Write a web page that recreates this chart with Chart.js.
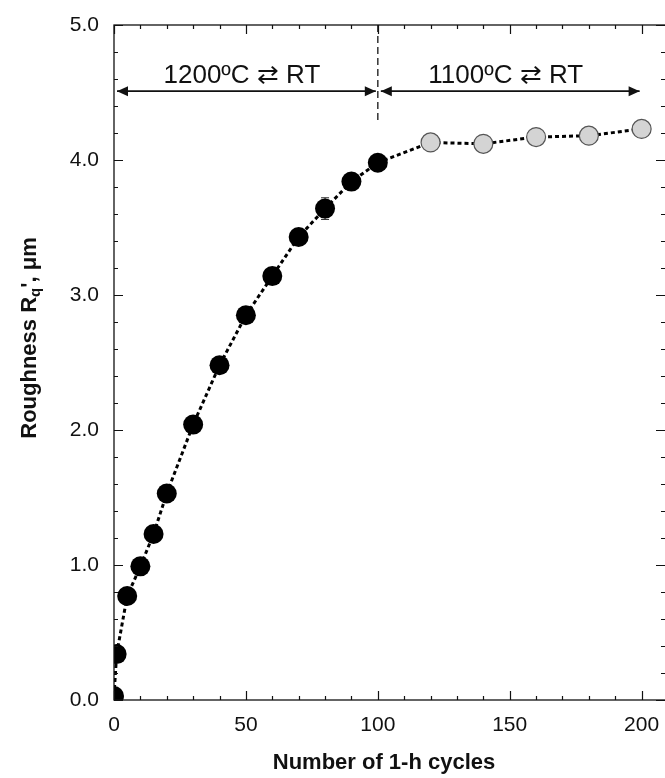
<!DOCTYPE html>
<html>
<head>
<meta charset="utf-8">
<script src="https://cdn.jsdelivr.net/npm/chart.js@4.4.1/dist/chart.umd.min.js"></script>
<style>
  html, body { margin: 0; padding: 0; background: #fff; overflow: hidden; }
  #roughChart { display: block; }
</style>
</head>
<body>
<canvas id="roughChart" width="668" height="778"></canvas>
<script>
// Roughness vs thermal cycles
const cycles1200 = [0, 1, 5, 10, 15, 20, 30, 40, 50, 60, 70, 80, 90, 100];
const rough1200 = [0.03, 0.34, 0.77, 0.99, 1.23, 1.53, 2.04, 2.48, 2.85, 3.14, 3.43, 3.64, 3.84, 3.98];
const err1200 = [0, 0, 0, 0, 0, 0, 0, 0, 0, 0, 0.03, 0.08, 0.03, 0.03];
const cycles1100 = [120, 140, 160, 180, 200];
const rough1100 = [4.13, 4.12, 4.17, 4.18, 4.23];
const xTicks = [0, 50, 100, 150, 200];
const yTicks = [0, 1, 2, 3, 4, 5];
const segLabels = ["1200\u00BAC \u21C4 RT", "1100\u00BAC \u21C4 RT"];
const segRanges = [[0, 100], [100, 200]];

const FONT = "'Liberation Sans', Arial, sans-serif";

const allPts = cycles1200.map((x, i) => ({ x: x, y: rough1200[i] }))
  .concat(cycles1100.map((x, i) => ({ x: x, y: rough1100[i] })));

const framePlugin = {
  id: "frame",
  beforeDatasetsDraw(chart) {
    const { ctx, scales: { x, y } } = chart;
    // error bars (behind markers)
    ctx.save();
    ctx.strokeStyle = "#222";
    ctx.lineWidth = 1;
    cycles1200.forEach((c, i) => {
      if (!err1200[i]) return;
      const px = x.getPixelForValue(c);
      const top = y.getPixelForValue(rough1200[i] + err1200[i]);
      const bot = y.getPixelForValue(rough1200[i] - err1200[i]);
      ctx.beginPath();
      ctx.moveTo(px, top); ctx.lineTo(px, bot);
      ctx.moveTo(px - 4, top); ctx.lineTo(px + 4, top);
      ctx.moveTo(px - 4, bot); ctx.lineTo(px + 4, bot);
      ctx.stroke();
    });
    // dashed divider at 100 cycles
    ctx.setLineDash([7, 4]);
    ctx.lineWidth = 1.5;
    ctx.strokeStyle = "#333";
    ctx.beginPath();
    ctx.moveTo(x.getPixelForValue(100), y.getPixelForValue(5));
    ctx.lineTo(x.getPixelForValue(100), y.getPixelForValue(4.27));
    ctx.stroke();
    ctx.restore();
  },
  afterDraw(chart) {
    const { ctx, chartArea: a, scales: { x, y } } = chart;
    ctx.save();
    ctx.strokeStyle = "#111";
    ctx.lineWidth = 1.3;
    ctx.strokeRect(a.left, a.top, a.right - a.left, a.bottom - a.top);

    // inward ticks on all four sides
    ctx.lineWidth = 1.2;
    ctx.beginPath();
    for (let v = 0; v <= 210; v += 10) {
      const px = Math.round(x.getPixelForValue(v)) + 0.5;
      const len = v % 50 === 0 ? 9 : 4;
      ctx.moveTo(px, a.bottom); ctx.lineTo(px, a.bottom - len);
      ctx.moveTo(px, a.top); ctx.lineTo(px, a.top + len);
    }
    for (let k = 0; k <= 25; k++) {
      const py = Math.round(y.getPixelForValue(k * 0.2)) + 0.5;
      const len = k % 5 === 0 ? 9 : 4;
      ctx.moveTo(a.left, py); ctx.lineTo(a.left + len, py);
      ctx.moveTo(a.right - 3, py); ctx.lineTo(a.right - 3 - len, py);
    }
    ctx.stroke();

    // double headed arrows with labels
    const ay = y.getPixelForValue(4.51);
    ctx.fillStyle = "#111";
    ctx.lineWidth = 1.6;
    segRanges.forEach((r, i) => {
      const x0 = x.getPixelForValue(r[0]) + 3;
      const x1 = x.getPixelForValue(r[1]) - 2;
      ctx.beginPath();
      ctx.moveTo(x0, ay); ctx.lineTo(x1, ay);
      ctx.stroke();
      [[x0, 1], [x1, -1]].forEach(([tip, d]) => {
        ctx.beginPath();
        ctx.moveTo(tip, ay);
        ctx.lineTo(tip + d * 11, ay - 5);
        ctx.lineTo(tip + d * 11, ay + 5);
        ctx.closePath();
        ctx.fill();
      });
      ctx.font = "26px " + FONT;
      ctx.textAlign = "center";
      ctx.textBaseline = "alphabetic";
      const cx = x.getPixelForValue((r[0] + r[1]) / 2) - 4;
      ctx.fillText(segLabels[i], cx, ay - 8);
    });

    // axis titles
    ctx.fillStyle = "#111";
    ctx.font = "bold 22px " + FONT;
    ctx.textAlign = "center";
    ctx.textBaseline = "middle";
    ctx.fillText("Number of 1-h cycles", 384, 763);

    ctx.translate(30, 338);
    ctx.rotate(-Math.PI / 2);
    const parts = [
      { t: "Roughness R", f: "bold 22px " + FONT, dy: 0 },
      { t: "q", f: "bold 15px " + FONT, dy: 6 },
      { t: "', \u03BCm", f: "bold 22px " + FONT, dy: 0 }
    ];
    let total = 0;
    parts.forEach(p => { ctx.font = p.f; p.w = ctx.measureText(p.t).width; total += p.w; });
    let cur = -total / 2;
    ctx.textAlign = "left";
    parts.forEach(p => {
      ctx.font = p.f;
      ctx.fillText(p.t, cur, p.dy);
      cur += p.w;
    });
    ctx.restore();
  }
};

new Chart(document.getElementById("roughChart"), {
  type: "scatter",
  data: {
    datasets: [
      {
        label: "1100",
        data: cycles1100.map((x, i) => ({ x: x, y: rough1100[i] })),
        pointRadius: 9.5,
        pointBackgroundColor: "#d4d4d4",
        pointBorderColor: "#555",
        pointBorderWidth: 1.2,
        order: 1
      },
      {
        label: "1200",
        data: cycles1200.map((x, i) => ({ x: x, y: rough1200[i] })),
        pointRadius: 10,
        pointBackgroundColor: "#000",
        pointBorderColor: "#000",
        pointBorderWidth: 0,
        order: 1
      },
      {
        label: "trend",
        data: allPts,
        showLine: true,
        borderColor: "#000",
        borderWidth: 3,
        borderDash: [4, 3],
        pointRadius: 0,
        order: 2
      }
    ]
  },
  options: {
    responsive: false,
    animation: false,
    layout: { autoPadding: false, padding: { top: 25, right: 0, left: 0, bottom: 0 } },
    plugins: { legend: { display: false }, tooltip: { enabled: false } },
    scales: {
      x: {
        type: "linear",
        min: 0,
        max: 210,
        grid: { display: false, drawTicks: false },
        border: { display: false },
        afterBuildTicks: s => { s.ticks = xTicks.map(v => ({ value: v })); },
        afterFit: s => { s.height = 78; s.paddingLeft = 0; s.paddingRight = 0; },
        ticks: {
          padding: 13,
          color: "#111",
          font: { family: FONT, size: 21 }
        }
      },
      y: {
        min: 0,
        max: 5,
        grid: { display: false, drawTicks: false },
        border: { display: false },
        afterBuildTicks: s => { s.ticks = yTicks.map(v => ({ value: v })); },
        afterFit: s => { s.width = 114; s.paddingTop = 0; s.paddingBottom = 0; },
        ticks: {
          padding: 15,
          color: "#111",
          font: { family: FONT, size: 21 },
          callback: v => Number(v).toFixed(1)
        }
      }
    }
  },
  plugins: [framePlugin]
});
</script>
</body>
</html>
